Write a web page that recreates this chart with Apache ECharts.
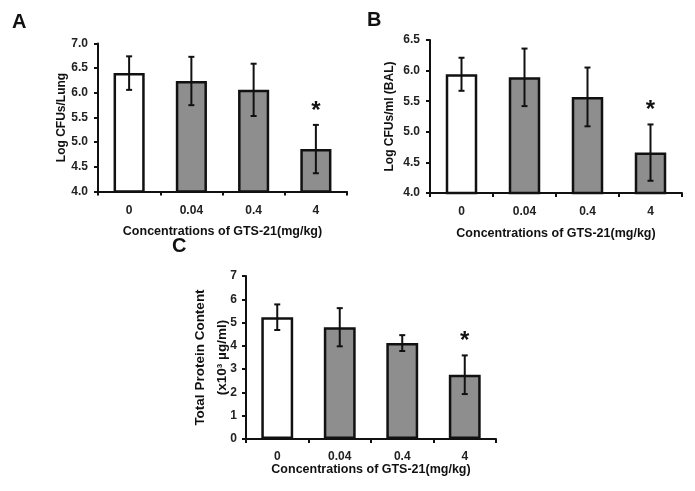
<!DOCTYPE html>
<html>
<head>
<meta charset="utf-8">
<script src="https://cdn.jsdelivr.net/npm/echarts@6/dist/echarts.min.js"></script>
<style>
html,body{margin:0;padding:0;background:#fff;}
#chart{width:695px;height:491px;}
</style>
</head>
<body>
<div id="chart"></div>
<script>
// ---- data ----
var categories = ['0', '0.04', '0.4', '4'];
var lungValues = [6.40, 6.24, 6.06, 4.86];
var lungErrors = [0.34, 0.49, 0.53, 0.49];
var balValues = [5.94, 5.89, 5.57, 4.66];
var balErrors = [0.27, 0.47, 0.48, 0.46];
var proteinValues = [5.23, 4.80, 4.12, 2.76];
var proteinErrors = [0.55, 0.82, 0.34, 0.83];
var significant = [false, false, false, true];
var xTitle = 'Concentrations of GTS-21(mg/kg)';

var FONT = '"Liberation Sans", Arial, sans-serif';
var BAR_COLORS = ['#ffffff', '#8e8e8e', '#8e8e8e', '#8e8e8e'];

function barData(vals) {
  return vals.map(function (v, i) {
    return { value: v, itemStyle: { color: BAR_COLORS[i] } };
  });
}
function errData(vals, errs) {
  return vals.map(function (v, i) { return [i, v, errs[i], significant[i] ? 1 : 0]; });
}
function renderErr(params, api) {
  var idx = api.value(0), v = api.value(1), e = api.value(2), s = api.value(3);
  var top = api.coord([idx, v + e]);
  var bot = api.coord([idx, v - e]);
  var cap = 3;
  var style = { stroke: '#111', lineWidth: 2 };
  var children = [
    { type: 'line', shape: { x1: top[0], y1: top[1], x2: bot[0], y2: bot[1] }, style: style },
    { type: 'line', shape: { x1: top[0] - cap, y1: top[1], x2: top[0] + cap, y2: top[1] }, style: style },
    { type: 'line', shape: { x1: bot[0] - cap, y1: bot[1], x2: bot[0] + cap, y2: bot[1] }, style: style }
  ];
  if (s) {
    children.push({
      type: 'text',
      style: { text: '*', x: top[0], y: top[1] - 2, align: 'center', verticalAlign: 'bottom',
               fontSize: 24, fontWeight: 'bold', fontFamily: FONT, fill: '#111' }
    });
  }
  return { type: 'group', children: children };
}

var axisLabelStyle = { fontFamily: FONT, fontWeight: 'bold', fontSize: 12, color: '#222' };
var xNameStyle = { fontFamily: FONT, fontWeight: 'bold', fontSize: 12.5, color: '#111' };
var yNameStyle = { fontFamily: FONT, fontWeight: 'bold', fontSize: 12, color: '#111' };

function xAxisCfg(gridIndex, labelMargin, nameGap) {
  return {
    type: 'category', gridIndex: gridIndex, data: categories,
    axisLine: { lineStyle: { color: '#111', width: 2 } },
    axisTick: { show: true, length: 4, lineStyle: { color: '#111', width: 2 } },
    axisLabel: Object.assign({ margin: labelMargin }, axisLabelStyle),
    name: xTitle, nameLocation: 'middle', nameGap: nameGap, nameTextStyle: xNameStyle,
    nameMoveOverlap: false
  };
}
function yAxisCfg(gridIndex, min, max, interval, decimals, name, nameGap, labelMargin, nameTextStyle) {
  return {
    type: 'value', gridIndex: gridIndex, min: min, max: max, interval: interval,
    splitLine: { show: false },
    axisLine: { show: true, lineStyle: { color: '#111', width: 2 } },
    axisTick: { show: true, length: 4, lineStyle: { color: '#111', width: 2 } },
    axisLabel: Object.assign({ margin: labelMargin, formatter: function (v) { return v.toFixed(decimals); } }, axisLabelStyle),
    name: name, nameLocation: 'middle', nameGap: nameGap, nameTextStyle: nameTextStyle || yNameStyle,
    nameMoveOverlap: false
  };
}

var chart = echarts.init(document.getElementById('chart'), null, { renderer: 'canvas' });
chart.setOption({
  backgroundColor: '#ffffff',
  animation: false,
  grid: [
    { left: 98, top: 43.5, width: 249, height: 148 },
    { left: 430, top: 40, width: 252, height: 153 },
    { left: 246, top: 276, width: 250, height: 163 }
  ],
  xAxis: [
    xAxisCfg(0, 13, 34),
    xAxisCfg(1, 13, 34),
    xAxisCfg(2, 12, 24)
  ],
  yAxis: [
    yAxisCfg(0, 4, 7, 0.5, 1, 'Log CFUs/Lung', 30, 10),
    yAxisCfg(1, 4, 6.5, 0.5, 1, 'Log CFUs/ml (BAL)', 34, 10),
    yAxisCfg(2, 0, 7, 1, 0, 'Total Protein Content\n(x10³ µg/ml)', 13, 9, {
      fontFamily: FONT, fontWeight: 'bold', fontSize: 13.5, color: '#111', lineHeight: 22
    })
  ],
  series: [
    { type: 'bar', xAxisIndex: 0, yAxisIndex: 0, data: barData(lungValues), barWidth: '50%',
      itemStyle: { borderColor: '#111', borderWidth: 2.5 } },
    { type: 'custom', xAxisIndex: 0, yAxisIndex: 0, data: errData(lungValues, lungErrors), renderItem: renderErr, z: 5 },
    { type: 'bar', xAxisIndex: 1, yAxisIndex: 1, data: barData(balValues), barWidth: '50%',
      itemStyle: { borderColor: '#111', borderWidth: 2.5 } },
    { type: 'custom', xAxisIndex: 1, yAxisIndex: 1, data: errData(balValues, balErrors), renderItem: renderErr, z: 5 },
    { type: 'bar', xAxisIndex: 2, yAxisIndex: 2, data: barData(proteinValues), barWidth: '51%',
      itemStyle: { borderColor: '#111', borderWidth: 2.5 } },
    { type: 'custom', xAxisIndex: 2, yAxisIndex: 2, data: errData(proteinValues, proteinErrors), renderItem: renderErr, z: 5 }
  ],
  graphic: [
    { type: 'text', left: 12, top: 12, style: { text: 'A', fontFamily: FONT, fontWeight: 'bold', fontSize: 20, fill: '#111' } },
    { type: 'text', left: 367, top: 10, style: { text: 'B', fontFamily: FONT, fontWeight: 'bold', fontSize: 20, fill: '#111' } },
    { type: 'text', left: 172, top: 236, style: { text: 'C', fontFamily: FONT, fontWeight: 'bold', fontSize: 20, fill: '#111' } }
  ]
});
</script>
</body>
</html>
